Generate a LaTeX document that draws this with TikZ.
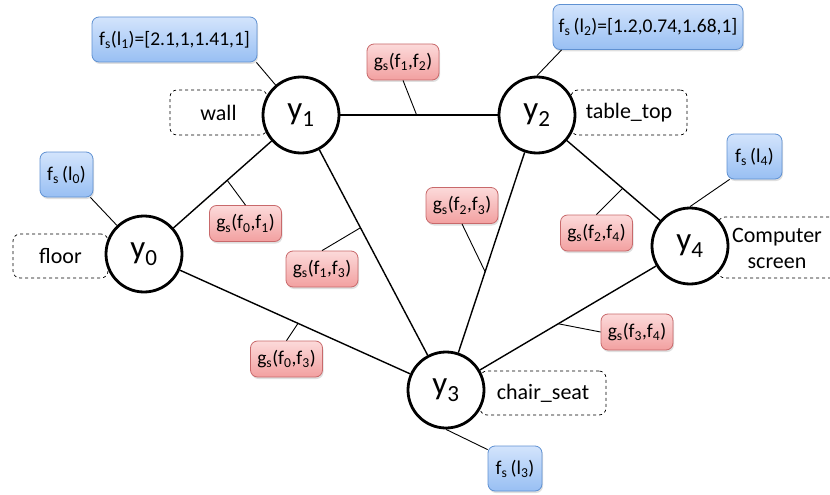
\documentclass[tikz,border=0pt]{standalone}
\usepackage{fontspec}
\setmainfont{Carlito}
\usetikzlibrary{shadows,calc}
\definecolor{bluetop}{HTML}{D3E4FC}
\definecolor{bluebot}{HTML}{98BFF3}
\definecolor{blueborder}{HTML}{5F91D2}
\definecolor{redtop}{HTML}{FCDADA}
\definecolor{redbot}{HTML}{F2A0A0}
\definecolor{redborder}{HTML}{C8696B}
\begin{document}
\begin{tikzpicture}[x=1pt,y=-1pt,
  var/.style={circle, draw, line width=2.8pt, fill=white, minimum size=76pt, inner sep=0pt, font=\fontsize{33}{36}\selectfont},
  lbl/.style={draw, dashed, rounded corners=7pt, line width=0.7pt, font=\fontsize{22}{24}\selectfont, align=center, inner sep=0pt},
  ubox/.style={draw=blueborder, rounded corners=7pt, top color=bluetop, bottom color=bluebot, line width=0.8pt,
    drop shadow={shadow xshift=1pt, shadow yshift=-2pt, opacity=0.25},
    font=\fontsize{19.5}{22}\selectfont, inner sep=0pt, minimum height=45pt},
  pbox/.style={draw=redborder, rounded corners=7pt, top color=redtop, bottom color=redbot, line width=0.8pt,
    drop shadow={shadow xshift=1pt, shadow yshift=-2pt, opacity=0.25},
    font=\fontsize{19.5}{22}\selectfont, inner sep=0pt, minimum height=36pt, minimum width=72pt},
  link/.style={line width=1.4pt},
  tie/.style={line width=0.9pt}
]
\useasboundingbox (0,0) rectangle (830,495);
\clip (0,0) rectangle (830,495);

% dashed label boxes
\node[lbl, minimum width=97pt, minimum height=45pt] (lwall) at (218.5,112.5) {wall};
\node[lbl, minimum width=116pt, minimum height=45pt] (ltable) at (629,112.5) {table\_top};
\node[lbl, minimum width=95pt, minimum height=44pt] (lfloor) at (60.5,256) {floor};
\node[lbl, minimum width=126pt, minimum height=44pt] (lchair) at (543,393) {chair\_seat};
\node[lbl, minimum width=124pt, minimum height=61pt] (lscreen) at (780,247.5) {};
\node[font=\fontsize{22}{26}\selectfont, align=center, inner sep=0pt] (tscreen) at (777,248.5) {Computer\\screen};

% variable nodes
\node[var] (y1) at (301,115) {y\textsubscript{1}};
\node[var] (y2) at (537,115) {y\textsubscript{2}};
\node[var] (y0) at (144,254) {y\textsubscript{0}};
\node[var] (y4) at (690,246) {y\textsubscript{4}};
\node[var] (y3) at (446,390) {y\textsubscript{3}};

% edges
\draw[link] (y1) -- (y2);
\draw[link] (y0) -- (y1);
\draw[link] (y1) -- (y3);
\draw[link] (y2) -- (y3);
\draw[link] (y2) -- (y4);
\draw[link] (y3) -- (y4);
\draw[link] (y0) -- (y3);

% unary boxes
\node[ubox, minimum width=165pt] (fs1) at (174.5,39.5) {f\textsubscript{s}(l\textsubscript{1})=[2.1,1,1.41,1]};
\node[ubox, minimum width=190pt] (fs2) at (648,27) {f\textsubscript{s}\,(l\textsubscript{2})=[1.2,0.74,1.68,1]};
\node[ubox, minimum width=53pt] (fs0) at (66.5,174.5) {f\textsubscript{s}\,(l\textsubscript{0})};
\node[ubox, minimum width=55pt] (fs4) at (754.5,156.5) {f\textsubscript{s}\,(l\textsubscript{4})};
\node[ubox, minimum width=54pt] (fs3) at (515,468.5) {f\textsubscript{s}\,(l\textsubscript{3})};

\draw[tie] ([xshift=-1pt]fs1.south east) -- (y1);
\draw[tie] ([xshift=9pt]fs2.south west) -- (y2.north);
\draw[tie] ([xshift=-3pt]fs0.south east) -- (y0);
\draw[tie] ([xshift=3pt]fs4.south west) -- (y4.north);
\draw[tie] (y3.south) -- ([yshift=-4pt]fs3.north west);

% pairwise boxes
\node[pbox] (g12) at (403,62) {g\textsubscript{s}(f\textsubscript{1},f\textsubscript{2})};
\node[pbox] (g01) at (245.5,223.5) {g\textsubscript{s}(f\textsubscript{0},f\textsubscript{1})};
\node[pbox] (g13) at (322,269) {g\textsubscript{s}(f\textsubscript{1},f\textsubscript{3})};
\node[pbox] (g23) at (462,205.5) {g\textsubscript{s}(f\textsubscript{2},f\textsubscript{3})};
\node[pbox] (g24) at (596.5,233) {g\textsubscript{s}(f\textsubscript{2},f\textsubscript{4})};
\node[pbox] (g34) at (637,332) {g\textsubscript{s}(f\textsubscript{3},f\textsubscript{4})};
\node[pbox] (g03) at (286.5,359) {g\textsubscript{s}(f\textsubscript{0},f\textsubscript{3})};

\coordinate (c12) at ($(y1)!0.49!(y2)$);
\coordinate (c01) at ($(y0)!0.53!(y1)$);
\coordinate (c13) at ($(y1)!0.41!(y3)$);
\coordinate (c23) at ($(y2)!0.57!(y3)$);
\coordinate (c24) at ($(y2)!0.56!(y4)$);
\coordinate (c34) at ($(y3)!0.46!(y4)$);
\coordinate (c03) at ($(y0)!0.51!(y3)$);

\draw[tie] (g12.south) -- (c12);
\draw[tie] (g01.north) -- (c01);
\draw[tie] (g13.north) -- (c13);
\draw[tie] (g23.south) -- (c23);
\draw[tie] (g24.north) -- (c24);
\draw[tie] (g34.west) -- (c34);
\draw[tie] (g03.north) -- (c03);
\end{tikzpicture}
\end{document}
